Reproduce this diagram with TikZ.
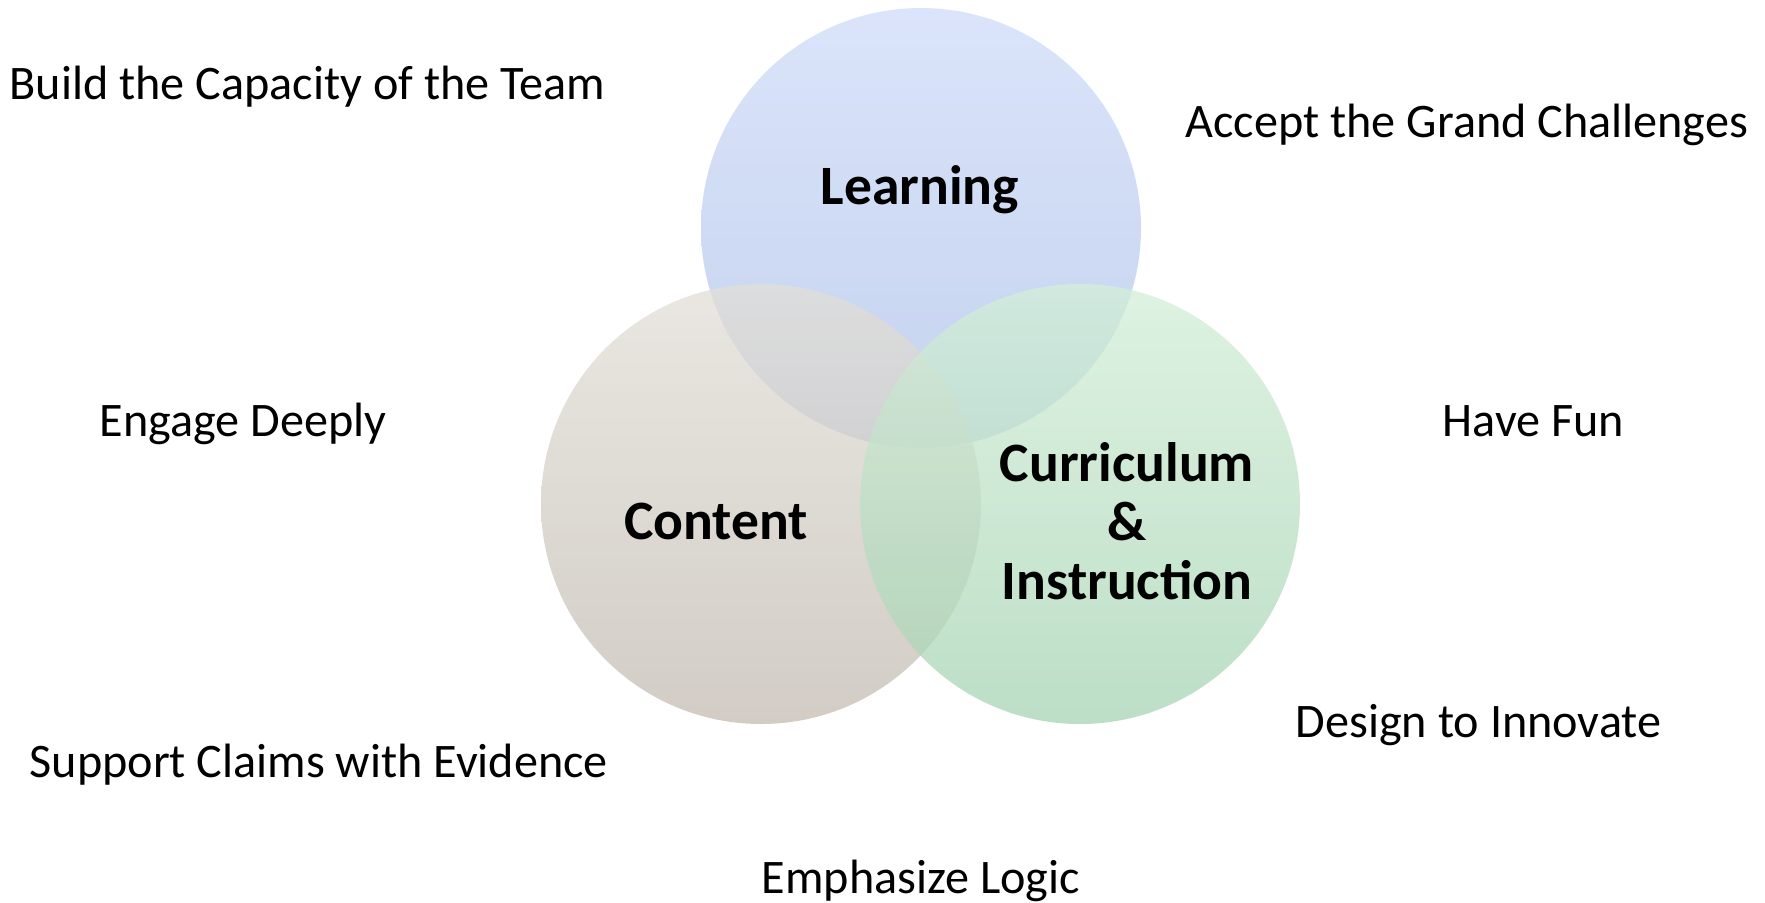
\documentclass[tikz,border=0pt]{standalone}
\usepackage{fontspec}
\setmainfont{Carlito}
\usetikzlibrary{positioning}
\definecolor{LearnTop}{RGB}{206,219,248}
\definecolor{LearnBot}{RGB}{176,195,232}
\definecolor{ContTop}{RGB}{226,223,216}
\definecolor{ContBot}{RGB}{195,187,178}
\definecolor{CurrTop}{RGB}{211,238,216}
\definecolor{CurrBot}{RGB}{166,211,179}

\tikzset{
  venn/.style={fill opacity=0.75},
  core/.style={font=\fontsize{15.8}{16.8}\selectfont\bfseries, align=center, inner sep=0pt},
  habit/.style={font=\fontsize{13.7}{16}\selectfont, inner sep=0pt, anchor=base west}
}

\begin{document}
\begin{tikzpicture}[x=0.01cm, y=-0.01cm]
  \useasboundingbox (0,0) rectangle (1765,902);

  % Circulos
  \shade[venn, top color=LearnTop, bottom color=LearnBot] (921,228) circle (220);
  \shade[venn, top color=ContTop, bottom color=ContBot] (761,504) circle (220);
  \shade[venn, top color=CurrTop, bottom color=CurrBot] (1080,504) circle (220);

  % Areas centrais
  \node[core, anchor=base] (learning) at (920,204) {Learning};
  \node[core, anchor=base] (content) at (716,539) {Content};
  \node[core] (curriculum) at (1127,521) {Curriculum\\\&\\Instruction};

  % Frases em volta
  \node[habit] (capacity) at (9,99) {Build the Capacity of the Team};
  \node[habit] (challenges) at (1185,137) {Accept the Grand Challenges};
  \node[habit] (engage) at (99,436) {Engage Deeply};
  \node[habit] (fun) at (1442,436) {Have Fun};
  \node[habit] (innovate) at (1295,737) {Design to Innovate};
  \node[habit] (claims) at (29,777) {Support Claims with Evidence};
  \node[habit] (logic) at (761,893) {Emphasize Logic};
\end{tikzpicture}
\end{document}
